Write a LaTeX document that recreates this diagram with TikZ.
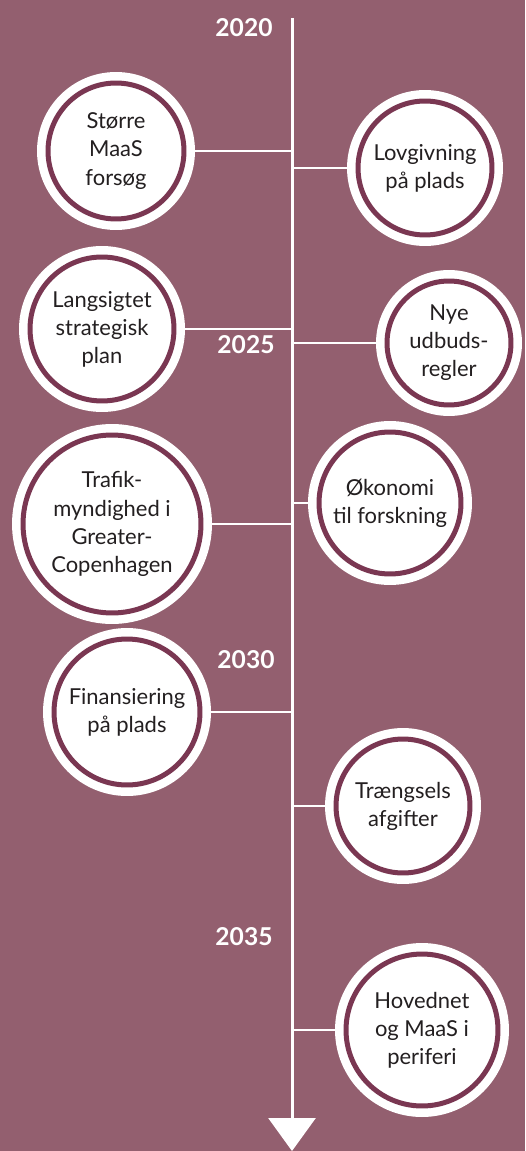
\documentclass[tikz,border=0pt]{standalone}
\usepackage{fontspec}
\setmainfont{Lato}
\usepackage{tikz}
\usetikzlibrary{backgrounds}
\usetikzlibrary{arrows.meta}
\definecolor{mauve}{RGB}{147,95,111}
\definecolor{wine}{RGB}{122,55,82}
\definecolor{ink}{RGB}{35,31,32}

\begin{document}
\begin{tikzpicture}[
              x = 0.02cm, % one unit per pixel
              y = -0.02cm, % counting downwards
            line cap = butt
        ]

        \tikzstyle{event}=[
            circle,
            draw = wine,
            line width = 0.1cm,
            fill = white,
            preaction = {draw = white, line width = 0.44cm},
            inner sep = 0pt,
            align = center,
            text = ink,
            font = \fontsize{12.5}{16}\selectfont
        ]
        \tikzstyle{year}=[text = white, font = \fontsize{14}{16}\selectfont\bfseries]
        \tikzstyle{link}=[draw = white, line width = 0.05cm]

        \useasboundingbox (0,0) rectangle (525,1151);

	% milestones, left and right of the line
        \node[event, minimum size=2.72cm] (S) at (116,151) {Større\\MaaS\\forsøg};
        \node[event, minimum size=2.68cm] (L) at (425,168) {Lovgivning\\på plads};
        \node[event, minimum size=2.88cm] (P) at (102,329) {Langsigtet\\strategisk\\plan};
        \node[event, minimum size=2.48cm] (N) at (449,343) {Nye\\udbuds-\\regler};
        \node[event, minimum size=3.56cm] (T) at (112,524) {Trafik-\\myndighed i\\Greater-\\Copenhagen};
        \node[event, minimum size=2.84cm] (O) at (390,503) {Økonomi\\til forskning};
        \node[event, minimum size=2.92cm] (F) at (127,712) {Finansiering\\på plads};
        \node[event, minimum size=2.68cm] (G) at (403,806) {Trængsels\\afgifter};
        \node[event, minimum size=3.04cm] (H) at (422,1030) {Hovednet\\og MaaS i\\periferi};

         % years
         \node[year] (y2020) at (244,28) {2020};
         \node[year] (y2025) at (246,345) {2025};
         \node[year] (y2030) at (246,660) {2030};
         \node[year] (y2035) at (244,937) {2035};

          \begin{scope}[on background layer]
          \fill[mauve] (0,0) rectangle (525,1151);

          % time line
          \coordinate (start) at (292,18);
          \coordinate (end) at (292,1151);
          \draw[white, line width=0.06cm, -{Triangle[width=0.94cm, length=0.66cm]}] (start) -- (end);

          % links from the line out to each milestone
          \foreach \n/\y in {S/151, L/168, P/329, N/343, T/524, O/503, F/712, G/806, H/1030} {
              \coordinate (c\n) at (292,\y);
              \draw[link] (c\n) -- (\n);
          }
          \end{scope}

  \end{tikzpicture}
\end{document}
